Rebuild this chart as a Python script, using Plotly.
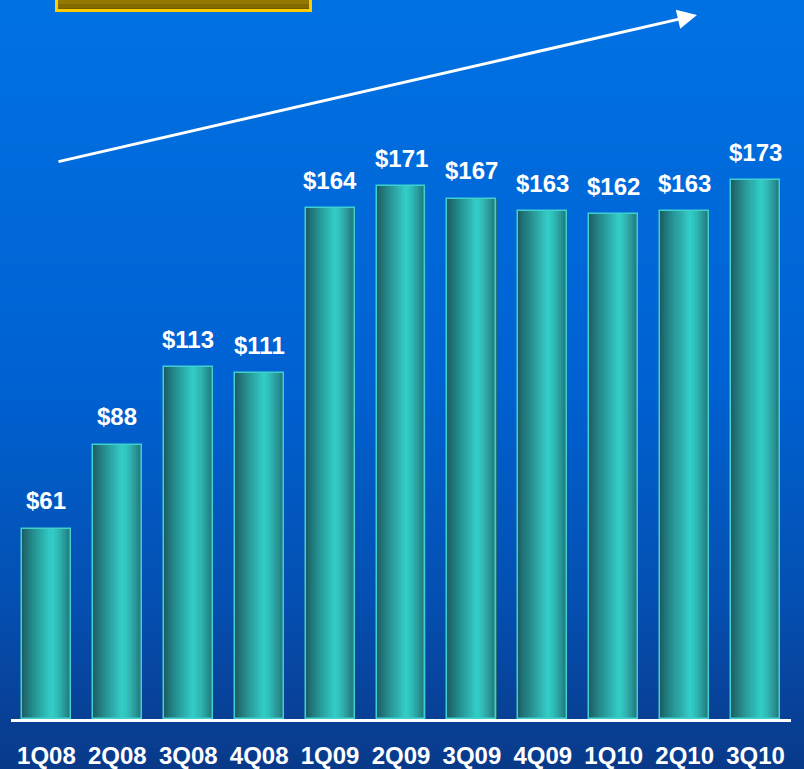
import plotly.graph_objects as go

quarters = ["1Q08", "2Q08", "3Q08", "4Q08", "1Q09", "2Q09", "3Q09", "4Q09", "1Q10", "2Q10", "3Q10"]
values = [61, 88, 113, 111, 164, 171, 167, 163, 162, 163, 173]
value_labels = [f"${v}" for v in values]

W, H = 804, 769
fig = go.Figure()

# ---- cylindrical bar shading via thin slices ----
def lerp(a, b, t):
    return tuple(a[i] + (b[i] - a[i]) * t for i in range(3))

dark_l = (28, 92, 98)
dark_r = (34, 112, 116)
peak = (52, 206, 200)
peak_pos = 0.6
N = 24
bar_w = 0.69
sw = bar_w / N
for i in range(N):
    t = (i + 0.5) / N
    if t <= peak_pos:
        u = t / peak_pos
        c = lerp(dark_l, peak, u ** 0.9)
    else:
        u = (t - peak_pos) / (1 - peak_pos)
        c = lerp(peak, dark_r, u ** 1.3)
    col = "rgb(%d,%d,%d)" % c
    fig.add_trace(go.Bar(
        x=quarters, y=values, width=sw * 1.08, offset=-bar_w / 2 + i * sw,
        marker=dict(color=col, line=dict(width=0)),
        hoverinfo="skip", showlegend=False,
    ))

# outline
fig.add_trace(go.Bar(
    x=quarters, y=values, width=bar_w, offset=-bar_w / 2,
    marker=dict(color="rgba(0,0,0,0)", line=dict(color="#3fd0d0", width=1.5)),
    hoverinfo="skip", showlegend=False,
))

# ---- background gradient strips ----
stops = [(0.0, (0, 114, 228)), (0.5, (0, 98, 210)), (0.78, (5, 80, 178)), (1.0, (10, 58, 138))]
def bg_color(f):
    for j in range(len(stops) - 1):
        f0, c0 = stops[j]
        f1, c1 = stops[j + 1]
        if f0 <= f <= f1:
            return lerp(c0, c1, (f - f0) / (f1 - f0))
    return stops[-1][1]

shapes = []
S = 110
for i in range(S):
    f = (i + 0.5) / S  # from top
    c = bg_color(f)
    shapes.append(dict(type="rect", xref="paper", yref="paper",
                       x0=0, x1=1, y0=1 - (i + 1) / S - 0.002, y1=1 - i / S,
                       fillcolor="rgb(%d,%d,%d)" % c, line=dict(width=0), layer="below"))

# gold box (top-left, partially cut off)
box_strips = [(1.2, 1 - 4 / H, "#957800"), (1 - 4 / H, 1 - 8 / H, "#826a00"), (1 - 8 / H, 1 - 11 / H, "#6f5b00")]
for y1, y0, col in box_strips:
    shapes.append(dict(type="rect", xref="paper", yref="paper",
                       x0=57 / W, x1=310 / W, y0=y0, y1=y1,
                       fillcolor=col, line=dict(width=0), layer="above"))
shapes.append(dict(type="rect", xref="paper", yref="paper",
                   x0=56.5 / W, x1=310.5 / W, y0=1 - 10.5 / H, y1=1.2,
                   fillcolor="rgba(0,0,0,0)", line=dict(color="#ffcc00", width=3), layer="above"))

annotations = []
for q, v, lab in zip(quarters, values, value_labels):
    annotations.append(dict(x=q, y=v, xref="x", yref="y", text=lab, showarrow=False,
                            yanchor="middle", yshift=28,
                            font=dict(family="Liberation Sans, Arial", size=24, color="white", weight="bold")))

# trend arrow
annotations.append(dict(x=697 / W, y=1 - 15 / H, xref="paper", yref="paper",
                        ax=57 - 697, ay=162 - 15, axref="pixel", ayref="pixel",
                        showarrow=True, arrowhead=2, arrowsize=1.3, arrowwidth=3,
                        arrowcolor="white", text=""))

fig.update_layout(
    width=W, height=H,
    margin=dict(l=0, r=0, t=0, b=0, autoexpand=False),
    paper_bgcolor="rgb(10,58,138)",
    plot_bgcolor="rgba(0,0,0,0)",
    barmode="overlay",
    bargap=0,
    shapes=shapes,
    annotations=annotations,
    xaxis=dict(domain=[11 / W, 791 / W], range=[-0.5, 10.5], showgrid=False, zeroline=False,
               showline=True, linecolor="white", linewidth=2.5, ticks="",
               ticklabelstandoff=13, automargin=False,
               tickfont=dict(family="Liberation Sans, Arial", size=24, color="white", weight="bold")),
    yaxis=dict(domain=[50 / H, 1], range=[0, 719 / 3.115], showgrid=False, zeroline=False,
               showticklabels=False, showline=False, automargin=False),
    showlegend=False,
)

fig.write_html("out.html", config={"displayModeBar": False},
               post_script="document.body.style.margin='0';document.body.style.overflow='hidden';")
